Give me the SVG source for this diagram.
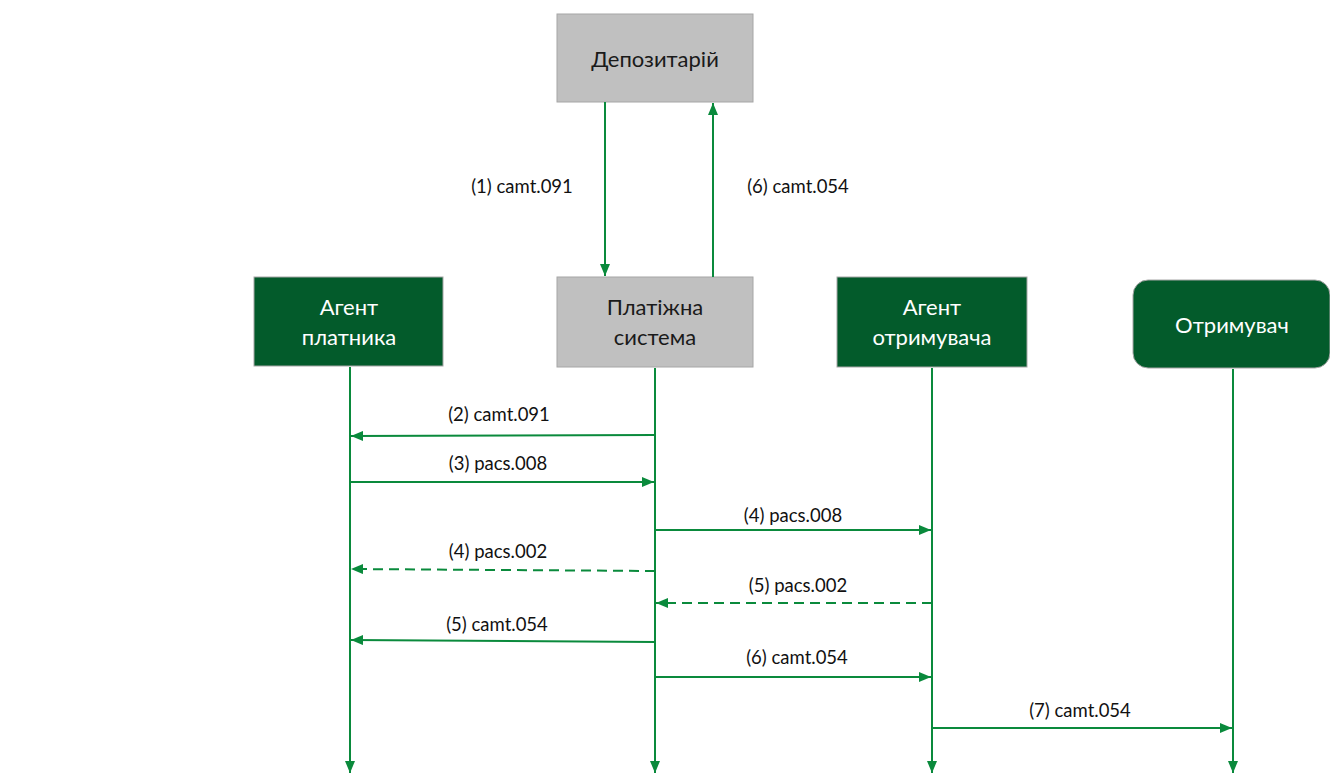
<svg xmlns="http://www.w3.org/2000/svg" width="1330" height="774" viewBox="0 0 1330 774">
<style>
.grey{fill:#c0c0c0;stroke:#a6a6a6;stroke-width:1}
.green{fill:#035b2b;stroke:#a6a6a6;stroke-width:1}
.t{font-family:Lato,"Liberation Sans",sans-serif;font-size:22px;text-anchor:middle}
.tw{fill:#ffffff}
.tb{fill:#1a1a1a}
.lbl{font-family:Lato,"Liberation Sans",sans-serif;font-size:18.5px;text-anchor:middle;fill:#111}
.ln{stroke:#0a8a3c;stroke-width:2;fill:none}
.dash{stroke-dasharray:10,6}
</style>
<defs>
<marker id="ah" viewBox="0 0 12 10" refX="12" refY="5" markerWidth="12" markerHeight="10" markerUnits="userSpaceOnUse" orient="auto">
<path d="M0,0 L12,5 L0,10 Z" fill="#0a8a3c"/>
</marker>
</defs>
<g id="depozytarii">
<rect class="grey" x="557" y="14" width="196" height="88"/>
<text class="t tb" x="655" y="67">Депозитарій</text>
</g>
<g id="platizhna-systema">
<rect class="grey" x="557" y="277" width="196" height="90"/>
<text class="t tb" x="655" y="315">Платіжна</text>
<text class="t tb" x="655" y="345">система</text>
</g>
<g id="agent-platnyka">
<rect class="green" x="254" y="277" width="189" height="89"/>
<text class="t tw" x="349" y="315">Агент</text>
<text class="t tw" x="349" y="345">платника</text>
</g>
<g id="agent-otrymuvacha">
<rect class="green" x="837" y="277" width="190" height="90"/>
<text class="t tw" x="932" y="315">Агент</text>
<text class="t tw" x="932" y="345">отримувача</text>
</g>
<g id="otrymuvach">
<rect class="green" x="1133" y="280" width="197" height="88" rx="15" ry="15"/>
<text class="t tw" x="1232" y="333">Отримувач</text>
</g>
<g id="connectors">
<line class="ln" x1="350" y1="367" x2="350" y2="773" marker-end="url(#ah)"/>
<line class="ln" x1="655" y1="368" x2="655" y2="773" marker-end="url(#ah)"/>
<line class="ln" x1="932" y1="368" x2="932" y2="773" marker-end="url(#ah)"/>
<line class="ln" x1="1233" y1="369" x2="1233" y2="773" marker-end="url(#ah)"/>
<line class="ln" x1="605" y1="102" x2="605" y2="276" marker-end="url(#ah)"/>
<line class="ln" x1="713" y1="277" x2="713" y2="103" marker-end="url(#ah)"/>
<line class="ln" x1="655" y1="435" x2="351" y2="436" marker-end="url(#ah)"/>
<line class="ln" x1="350" y1="482" x2="654" y2="482" marker-end="url(#ah)"/>
<line class="ln" x1="655" y1="530" x2="931" y2="530" marker-end="url(#ah)"/>
<line class="ln dash" x1="655" y1="571" x2="351" y2="569" marker-end="url(#ah)"/>
<line class="ln dash" x1="932" y1="603" x2="656" y2="603" marker-end="url(#ah)"/>
<line class="ln" x1="655" y1="642" x2="351" y2="640" marker-end="url(#ah)"/>
<line class="ln" x1="655" y1="677" x2="931" y2="677" marker-end="url(#ah)"/>
<line class="ln" x1="932" y1="728" x2="1232" y2="728" marker-end="url(#ah)"/>
</g>
<g id="labels">
<text class="lbl" x="522" y="193">(1) camt.091</text>
<text class="lbl" x="798" y="193">(6) camt.054</text>
<text class="lbl" x="499" y="421">(2) camt.091</text>
<text class="lbl" x="498" y="470">(3) pacs.008</text>
<text class="lbl" x="793" y="522">(4) pacs.008</text>
<text class="lbl" x="498" y="558">(4) pacs.002</text>
<text class="lbl" x="798" y="592">(5) pacs.002</text>
<text class="lbl" x="497" y="631">(5) camt.054</text>
<text class="lbl" x="797" y="664">(6) camt.054</text>
<text class="lbl" x="1080" y="717">(7) camt.054</text>
</g>
</svg>
